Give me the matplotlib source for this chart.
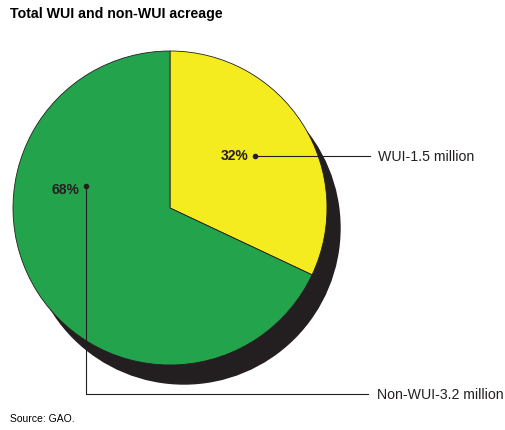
import matplotlib.pyplot as plt
from matplotlib.patches import Circle

# data
labels = ["WUI-1.5 million", "Non-WUI-3.2 million"]
shares = [32, 68]
colors = ["#F5EC1F", "#23A34B"]

W, H = 506, 431
fig = plt.figure(figsize=(W / 100, H / 100), dpi=100)
ax = fig.add_axes([0, 0, 1, 1])

cx, cy, r = 170, H - 209, 157

# drop shadow
ax.add_patch(Circle((cx + 14, cy - 20), r - 1, color="#231F20", zorder=0))

ax.pie(shares, colors=colors, startangle=90, counterclock=False,
       center=(cx, cy), radius=r,
       wedgeprops=dict(edgecolor="#231F20", linewidth=0.6))

ax.set_xlim(0, W)
ax.set_ylim(0, H)
ax.set_aspect("equal")
ax.axis("off")

font = ["Liberation Sans", "DejaVu Sans"]
ink = "#231F20"

# WUI label
ax.text(248, H - 156, f"{shares[0]}%", fontsize=10, fontweight="bold",
        ha="right", va="center", family=font, color=ink)
ax.plot([255], [H - 157], "o", color=ink, ms=3)
ax.plot([255, 370], [H - 157, H - 157], color=ink, lw=0.8)
ax.text(378, H - 157, labels[0], fontsize=10.2, ha="left", va="center",
        family=font, color=ink)

# Non-WUI label
ax.text(79, H - 190, f"{shares[1]}%", fontsize=10, fontweight="bold",
        ha="right", va="center", family=font, color=ink)
ax.plot([86], [H - 187], "o", color=ink, ms=3)
ax.plot([86, 86, 368], [H - 187, H - 395, H - 395], color=ink, lw=0.8)
ax.text(377, H - 395, labels[1], fontsize=10.2, ha="left", va="center",
        family=font, color=ink)

fig.text(10 / W, 1 - 14 / H, "Total WUI and non-WUI acreage", fontsize=10.2,
         fontweight="bold", ha="left", va="center", family=font)
fig.text(10 / W, 1 - 419 / H, "Source: GAO.", fontsize=7.5,
         ha="left", va="center", family=font)

fig.savefig("out.png", dpi=100)
